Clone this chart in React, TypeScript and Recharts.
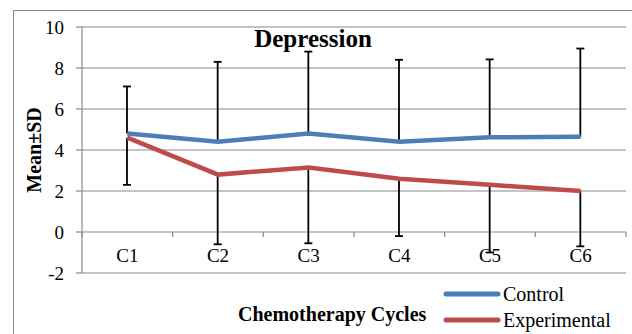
import React from "react";
import { ComposedChart, Line, Bar, XAxis, YAxis, CartesianGrid, Legend } from "recharts";

// values
const cycles = ["C1", "C2", "C3", "C4", "C5", "C6"];
const controlMean = [4.8, 4.4, 4.8, 4.4, 4.62, 4.65];
const controlSD = [2.3, 3.9, 4.0, 4.0, 3.8, 4.3];
const experimentalMean = [4.6, 2.8, 3.15, 2.6, 2.3, 2.0];
const experimentalSD = [2.3, 3.4, 3.7, 2.8, 3.3, 2.7];
const yTicks = [-2, 0, 2, 4, 6, 8, 10];

const W = 632;
const H = 334;
const TOP = 27;
const LEFT = 82;
const RIGHT = 6;
const BOTTOM = 61;
const X_AXIS_H = 30;
const PLOT_W = W - LEFT - RIGHT;
const PLOT_H = H - TOP - BOTTOM;
const Y_MIN = -2;
const Y_MAX = 10;

const GRID = "#8a8a8a";
const BLUE = "#4a7ebb";
const RED = "#be4b48";
const FONT = "'Liberation Serif', 'Times New Roman', serif";

const data = cycles.map((c, i) => ({
	cycle: c,
	control: controlMean[i],
	experimental: experimentalMean[i],
	// control shows only the +SD arm, experimental only the -SD arm
	controlArm: [controlMean[i], controlMean[i] + controlSD[i]],
	experimentalArm: [experimentalMean[i] - experimentalSD[i], experimentalMean[i]],
}));

// whisker drawn from a range bar; cap only at the outer end
const makeWhisker = (capAtTop: boolean) => (props: any) => {
	const { x, y, width, height } = props;
	if (x == null || y == null) return null;
	const top = Math.min(y, y + height);
	const bottom = Math.max(y, y + height);
	const cx = x + width / 2;
	const capY = capAtTop ? top : bottom;
	return (
		<g>
			<line x1={cx} x2={cx} y1={top} y2={bottom} stroke="#000" strokeWidth={1.8} />
			<line x1={x} x2={x + width} y1={capY} y2={capY} stroke="#000" strokeWidth={1.8} />
		</g>
	);
};
const UpperWhisker = makeWhisker(true);
const LowerWhisker = makeWhisker(false);

// x axis crosses the value axis at 0, so labels and ticks sit on that line
const CycleTick = (props: any) => {
	const { x, payload, index } = props;
	const zeroY = TOP + (PLOT_H * Y_MAX) / (Y_MAX - Y_MIN);
	const half = PLOT_W / cycles.length / 2;
	return (
		<g>
			{index === 0 && (
				<line x1={x - half} x2={x - half} y1={zeroY} y2={zeroY + 5} stroke={GRID} strokeWidth={1.2} />
			)}
			<line x1={x + half} x2={x + half} y1={zeroY} y2={zeroY + 5} stroke={GRID} strokeWidth={1.2} />
			<text x={x} y={zeroY + 30} textAnchor="middle" fontSize={19} fontFamily={FONT} fill="#000">
				{payload.value}
			</text>
		</g>
	);
};

const LegendContent = (props: any) => {
	const items = (props.payload || []).filter((p: any) => p.type !== "none" && p.value);
	return (
		<div style={{ fontFamily: FONT, fontSize: 20 }}>
			{items.map((p: any) => (
				<div key={p.value} style={{ display: "flex", alignItems: "center", height: 26 }}>
					<svg width={58} height={8} style={{ marginRight: 2 }}>
						<line x1={3} x2={55} y1={4} y2={4} stroke={p.color} strokeWidth={5} strokeLinecap="round" />
					</svg>
					<span style={{ lineHeight: "26px" }}>{p.value}</span>
				</div>
			))}
		</div>
	);
};

export default function App() {
	return (
		<div style={{ position: "absolute", left: 0, top: 0, width: W, height: H, overflow: "hidden", background: "#fff" }}>
			<div
				style={{
					position: "absolute",
					left: 13,
					top: 10,
					width: 800,
					height: 500,
					borderLeft: `1.5px solid ${GRID}`,
					borderTop: `1.5px solid ${GRID}`,
				}}
			/>
			<ComposedChart
				width={W}
				height={H}
				data={data}
				margin={{ top: TOP, right: RIGHT, left: 0, bottom: BOTTOM - X_AXIS_H }}
			>
				<CartesianGrid vertical={false} stroke={GRID} strokeWidth={1.2} />
				<XAxis
					dataKey="cycle"
					scale="band"
					height={X_AXIS_H}
					axisLine={false}
					tickLine={false}
					tick={<CycleTick />}
					interval={0}
				/>
				<XAxis xAxisId="up" dataKey="cycle" scale="band" hide />
				<XAxis xAxisId="down" dataKey="cycle" scale="band" hide />
				<YAxis
					width={LEFT}
					domain={[Y_MIN, Y_MAX]}
					ticks={yTicks}
					interval={0}
					allowDataOverflow
					axisLine={{ stroke: GRID, strokeWidth: 1.2 }}
					tickLine={{ stroke: GRID, strokeWidth: 1.2 }}
					tickSize={6}
					tickMargin={12}
					tick={{ fill: "#000", fontSize: 19, fontFamily: FONT }}
					label={{
						value: "Mean±SD",
						angle: -90,
						position: "insideLeft",
						offset: 34,
						style: { textAnchor: "middle", fontWeight: "bold", fontSize: 20, fontFamily: FONT, fill: "#000" },
					}}
				/>
				<Bar
					xAxisId="up"
					dataKey="controlArm"
					barSize={8}
					shape={UpperWhisker}
					legendType="none"
					isAnimationActive={false}
				/>
				<Bar
					xAxisId="down"
					dataKey="experimentalArm"
					barSize={8}
					shape={LowerWhisker}
					legendType="none"
					isAnimationActive={false}
				/>
				<Line
					name="Control"
					dataKey="control"
					type="linear"
					stroke={BLUE}
					strokeWidth={4.5}
					dot={false}
					activeDot={false}
					isAnimationActive={false}
				/>
				<Line
					name="Experimental"
					dataKey="experimental"
					type="linear"
					stroke={RED}
					strokeWidth={4.5}
					dot={false}
					activeDot={false}
					isAnimationActive={false}
				/>
				<Legend
					layout="vertical"
					align="center"
					verticalAlign="middle"
					content={<LegendContent />}
					wrapperStyle={{ left: 443, top: 281, width: 185 }}
				/>
			</ComposedChart>
			<div
				style={{
					position: "absolute",
					left: 0,
					width: 626,
					top: 26,
					textAlign: "center",
					fontFamily: FONT,
					fontWeight: "bold",
					fontSize: 25,
					lineHeight: "25px",
				}}
			>
				Depression
			</div>
			<div
				style={{
					position: "absolute",
					left: 238,
					top: 304,
					fontFamily: FONT,
					fontWeight: "bold",
					fontSize: 20,
					lineHeight: "20px",
					whiteSpace: "nowrap",
				}}
			>
				Chemotherapy Cycles
			</div>
		</div>
	);
}
